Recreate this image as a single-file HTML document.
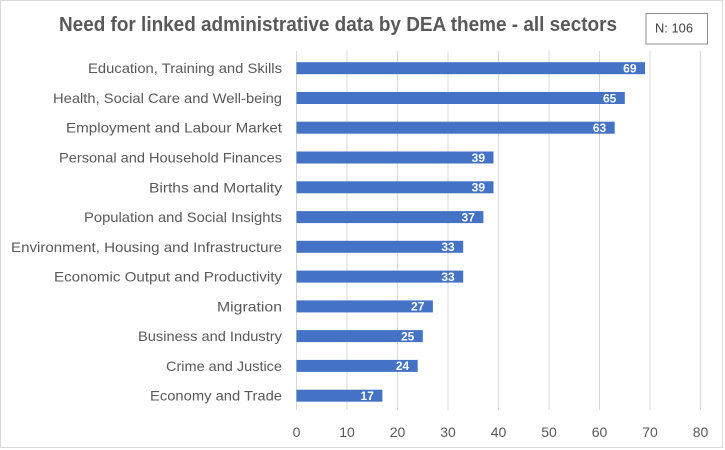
<!DOCTYPE html>
<html>
<head>
<meta charset="utf-8">
<style>
  html, body { margin: 0; padding: 0; background: #ffffff; }
  svg { display: block; }
  text { font-family: "Liberation Sans", Arial, sans-serif; }
</style>
</head>
<body>
<svg width="725" height="450" viewBox="0 0 725 450" xmlns="http://www.w3.org/2000/svg">
  <rect x="0" y="0" width="725" height="450" fill="#ffffff"/>
  <rect x="0.5" y="0.5" width="722" height="447" fill="none" stroke="#d9d9d9" stroke-width="1"/>

  <!-- Title -->
  <text x="338" y="31" text-anchor="middle" font-size="20" font-weight="bold" fill="#595959" textLength="558" lengthAdjust="spacingAndGlyphs">Need for linked administrative data by DEA theme - all sectors</text>

  <!-- N box -->
  <rect x="646" y="13.5" width="61.5" height="30.5" fill="#ffffff" stroke="#8c8c8c" stroke-width="1"/>
  <text x="674" y="32.5" text-anchor="middle" font-size="13" fill="#404040" textLength="38" lengthAdjust="spacingAndGlyphs">N: 106</text>

  <!-- Gridlines -->
  <g stroke="#d9d9d9" stroke-width="1">
    <line x1="296.5" y1="51" x2="296.5" y2="410"/>
    <line x1="347" y1="51" x2="347" y2="410"/>
    <line x1="397.5" y1="51" x2="397.5" y2="410"/>
    <line x1="448" y1="51" x2="448" y2="410"/>
    <line x1="498.5" y1="51" x2="498.5" y2="410"/>
    <line x1="549" y1="51" x2="549" y2="410"/>
    <line x1="599.5" y1="51" x2="599.5" y2="410"/>
    <line x1="650" y1="51" x2="650" y2="410"/>
    <line x1="700.5" y1="51" x2="700.5" y2="410"/>
  </g>

  <!-- Tick labels -->
  <g font-size="14" fill="#595959" text-anchor="middle">
    <text x="296.5" y="437">0</text>
    <text x="347" y="437">10</text>
    <text x="397.5" y="437">20</text>
    <text x="448" y="437">30</text>
    <text x="498.5" y="437">40</text>
    <text x="549" y="437">50</text>
    <text x="599.5" y="437">60</text>
    <text x="650" y="437">70</text>
    <text x="700.5" y="437">80</text>
  </g>

  <!-- Bars -->
  <g fill="#4472c4">
    <rect x="296.5" y="62.2" width="348.5" height="12"/>
    <rect x="296.5" y="92.0" width="328.3" height="12"/>
    <rect x="296.5" y="121.7" width="318.2" height="12"/>
    <rect x="296.5" y="151.5" width="197.0" height="12"/>
    <rect x="296.5" y="181.3" width="197.0" height="12"/>
    <rect x="296.5" y="211.1" width="186.9" height="12"/>
    <rect x="296.5" y="240.8" width="166.7" height="12"/>
    <rect x="296.5" y="270.6" width="166.7" height="12"/>
    <rect x="296.5" y="300.4" width="136.4" height="12"/>
    <rect x="296.5" y="330.1" width="126.3" height="12"/>
    <rect x="296.5" y="359.9" width="121.2" height="12"/>
    <rect x="296.5" y="389.7" width="85.9" height="12"/>
  </g>

  <!-- Data labels -->
  <g font-size="12" font-weight="bold" fill="#ffffff" text-anchor="end">
    <text x="636.5" y="72.5">69</text>
    <text x="616.3" y="102.3">65</text>
    <text x="606.2" y="132.0">63</text>
    <text x="485.0" y="161.8">39</text>
    <text x="485.0" y="191.6">39</text>
    <text x="474.9" y="221.4">37</text>
    <text x="454.7" y="251.1">33</text>
    <text x="454.7" y="280.9">33</text>
    <text x="424.4" y="310.7">27</text>
    <text x="414.3" y="340.4">25</text>
    <text x="409.2" y="370.2">24</text>
    <text x="373.9" y="400.0">17</text>
  </g>

  <!-- Category labels -->
  <g font-size="14" fill="#595959" text-anchor="end">
    <text x="282" y="73.2" textLength="194" lengthAdjust="spacingAndGlyphs">Education, Training and Skills</text>
    <text x="282" y="103.0" textLength="229" lengthAdjust="spacingAndGlyphs">Health, Social Care and Well-being</text>
    <text x="282" y="132.7" textLength="216" lengthAdjust="spacingAndGlyphs">Employment and Labour Market</text>
    <text x="282" y="162.5" textLength="223" lengthAdjust="spacingAndGlyphs">Personal and Household Finances</text>
    <text x="282" y="192.3" textLength="133" lengthAdjust="spacingAndGlyphs">Births and Mortality</text>
    <text x="282" y="222.1" textLength="198" lengthAdjust="spacingAndGlyphs">Population and Social Insights</text>
    <text x="282" y="251.8" textLength="271" lengthAdjust="spacingAndGlyphs">Environment, Housing and Infrastructure</text>
    <text x="282" y="281.6" textLength="228" lengthAdjust="spacingAndGlyphs">Economic Output and Productivity</text>
    <text x="282" y="311.4" textLength="65" lengthAdjust="spacingAndGlyphs">Migration</text>
    <text x="282" y="341.1" textLength="144" lengthAdjust="spacingAndGlyphs">Business and Industry</text>
    <text x="282" y="370.9" textLength="116" lengthAdjust="spacingAndGlyphs">Crime and Justice</text>
    <text x="282" y="400.7" textLength="132" lengthAdjust="spacingAndGlyphs">Economy and Trade</text>
  </g>
</svg>
</body>
</html>
